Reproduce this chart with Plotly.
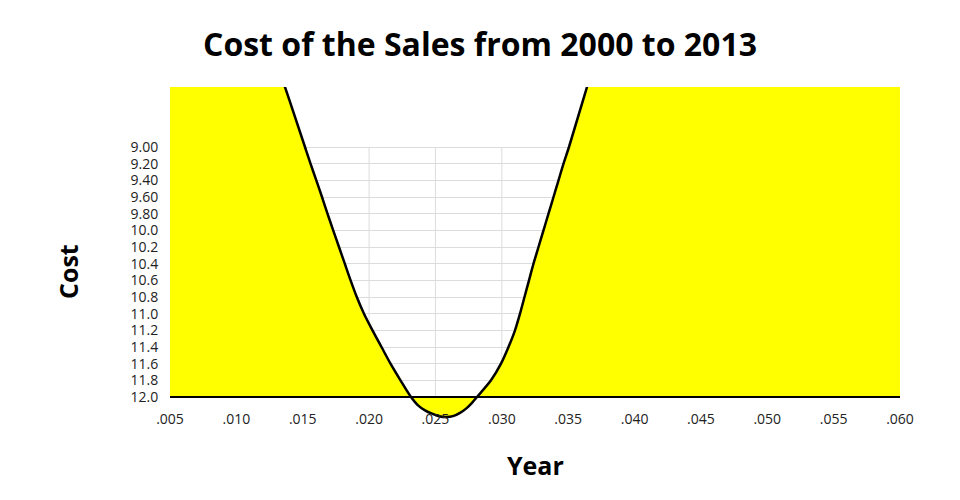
import plotly.graph_objects as go

# ---- data ----
rate = [0.0050, 0.013664, 0.015171, 0.015586, 0.016023, 0.016452, 0.016866, 0.017296,
        0.017733, 0.018170, 0.018607, 0.019074, 0.019616, 0.020257, 0.020935, 0.021613,
        0.022366, 0.023157, 0.023685, 0.024212, 0.024740, 0.025267, 0.025794, 0.026322,
        0.026849, 0.027377, 0.027753, 0.028130, 0.029185, 0.029938, 0.030503, 0.030993,
        0.031370, 0.031709, 0.032048, 0.032387, 0.032764, 0.033140, 0.033517, 0.033894,
        0.034271, 0.034648, 0.035061, 0.036418, 0.0445, 0.0600]
cost = [4.20, 8.28, 9.00, 9.20, 9.40, 9.60, 9.80, 10.0,
        10.2, 10.4, 10.6, 10.8, 11.0, 11.2, 11.4, 11.6,
        11.8, 12.0, 12.10, 12.16, 12.20, 12.23, 12.24, 12.23,
        12.19, 12.13, 12.07, 12.0, 11.8, 11.6, 11.4, 11.2,
        11.0, 10.8, 10.6, 10.4, 10.2, 10.0, 9.80, 9.60,
        9.40, 9.20, 9.00, 8.28, 4.00, 4.00]

x_ticks = [0.005, 0.010, 0.015, 0.020, 0.025, 0.030, 0.035, 0.040, 0.045, 0.050, 0.055, 0.060]
x_tick_labels = [".005", ".010", ".015", ".020", ".025", ".030", ".035", ".040",
                 ".045", ".050", ".055", ".060"]
y_ticks = [9.0, 9.2, 9.4, 9.6, 9.8, 10.0, 10.2, 10.4, 10.6, 10.8, 11.0, 11.2,
           11.4, 11.6, 11.8, 12.0]
y_tick_labels = ["9.00", "9.20", "9.40", "9.60", "9.80", "10.0", "10.2", "10.4",
                 "10.6", "10.8", "11.0", "11.2", "11.4", "11.6", "11.8", "12.0"]
baseline = 12.0

# ---- layout geometry (page body adds an 8px offset) ----
OFF = 8
W, H = 960 - OFF, 500 - OFF
plot_top, plot_bottom = 87 - OFF, 421 - OFF
plot_left, plot_right = 170 - OFF, 900 - OFF
y_lo, y_hi = 8.28, 12.288          # visible value range (top, bottom)
x_lo, x_hi = 0.005, 0.060

FONT = "Open Sans"
GRID = "#dcdcdc"

fig = go.Figure()

# baseline (invisible) to fill against
fig.add_trace(go.Scatter(x=[x_ticks[0], x_ticks[-1]], y=[baseline, baseline],
                         mode="lines", line=dict(width=0, color="rgba(0,0,0,0)"),
                         hoverinfo="skip", showlegend=False))
# curve
fig.add_trace(go.Scatter(x=rate, y=cost, mode="lines",
                         line=dict(color="black", width=2.5, shape="spline", smoothing=0.8),
                         fill="tonexty", fillcolor="#ffff00",
                         showlegend=False))

# vertical grid lines only across the 9..12 band
for xv in x_ticks:
    fig.add_shape(type="line", x0=xv, x1=xv, y0=y_ticks[0], y1=y_ticks[-1],
                  xref="x", yref="y", line=dict(color=GRID, width=1), layer="below")

axis_pos = (y_hi - baseline) / (y_hi - y_lo)
ph = plot_bottom - plot_top
pw = plot_right - plot_left

fig.update_layout(
    width=W, height=H,
    margin=dict(l=plot_left, r=W - plot_right, t=plot_top, b=H - plot_bottom, pad=0),
    paper_bgcolor="white", plot_bgcolor="white",
    title=dict(text="<b>Cost of the Sales from 2000 to 2013</b>",
               x=(480 - OFF) / W, xanchor="center", y=1 - (45 - OFF) / H, yanchor="middle",
               xref="container", yref="container",
               font=dict(family=FONT, size=32, color="black")),
    xaxis=dict(range=[x_lo, x_hi], tickvals=x_ticks, ticktext=x_tick_labels,
               showgrid=False, zeroline=False, showline=True,
               linecolor="black", linewidth=1.5,
               anchor="free", position=axis_pos,
               ticks="outside", ticklen=9, tickcolor="rgba(0,0,0,0)",
               tickfont=dict(family=FONT, size=14, color="#222")),
    yaxis=dict(range=[y_hi, y_lo], tickvals=y_ticks, ticktext=y_tick_labels,
               showgrid=True, gridcolor=GRID, gridwidth=1,
               zeroline=False, showline=False,
               ticks="outside", ticklen=8, tickcolor="rgba(0,0,0,0)",
               tickfont=dict(family=FONT, size=14, color="#222")),
    annotations=[
        dict(text="<b>Year</b>", xref="paper", yref="paper",
             x=(535 - OFF - plot_left) / pw, y=(plot_bottom - (465 - OFF)) / ph,
             xanchor="center", yanchor="middle", showarrow=False,
             font=dict(family=FONT, size=25, color="black")),
        dict(text="<b>Cost</b>", xref="paper", yref="paper",
             x=(68 - OFF - plot_left) / pw,
             y=(plot_bottom - (272 - OFF)) / ph,
             xanchor="center", yanchor="middle", textangle=-90, showarrow=False,
             font=dict(family=FONT, size=25, color="black")),
    ],
)

fig.write_html("out.html")
